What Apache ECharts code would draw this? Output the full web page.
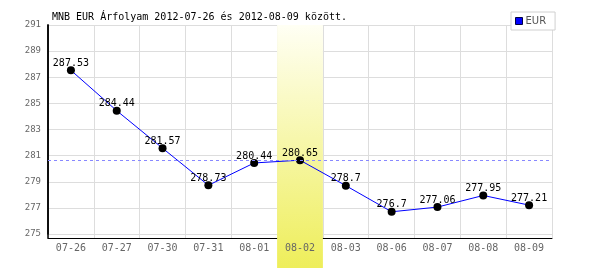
<!DOCTYPE html>
<html>
<head>
<meta charset="utf-8">
<script src="https://cdn.jsdelivr.net/npm/echarts@6/dist/echarts.min.js"></script>
<style>html,body{margin:0;padding:0;background:#fff}#c{width:600px;height:270px}</style>
</head>
<body>
<div id="c"></div>
<script>
const titleText = 'MNB EUR Árfolyam 2012-07-26 és 2012-08-09 között.';
const seriesName = 'EUR';
const categories = ['07-26','07-27','07-30','07-31','08-01','08-02','08-03','08-06','08-07','08-08','08-09'];
const values = [287.53, 284.44, 281.57, 278.73, 280.44, 280.65, 278.7, 276.7, 277.06, 277.95, 277.21];
const highlightCategory = '08-02';
const referenceValue = 280.65;
const yMin = 275, yMax = 291, yStep = 2;

const bandData = categories.map(c => c === highlightCategory ? 1 : null);
const mono = 'DejaVu Sans Mono';

const chart = echarts.init(document.getElementById('c'), null, {renderer: 'canvas'});
chart.setOption({
  animation: false,
  backgroundColor: '#ffffff',
  title: {
    text: titleText, left: 47, top: 7,
    textStyle: {fontFamily: mono, fontSize: 10, fontWeight: 'normal', color: '#000'}
  },
  legend: {
    left: 511, top: 12, orient: 'vertical',
    backgroundColor: '#fff', borderColor: '#d0d0d0', borderWidth: 1,
    padding: [4, 9, 4, 4], itemWidth: 7, itemHeight: 7, itemGap: 0,
    icon: 'rect',
    data: [{name: seriesName, itemStyle: {color: '#0000ff', borderColor: '#000044', borderWidth: 1}}],
    textStyle: {fontFamily: 'DejaVu Sans', fontSize: 10, color: '#555', padding: [0,0,0,-2]}
  },
  grid: [
    {left: 48, right: 48, top: 25, bottom: 36},
    {left: 48, right: 48, top: 25, bottom: 32},
    {left: 48, right: 48, top: 25, bottom: 2},
    {left: 0, right: 552, top: 25, bottom: 32}
  ],
  xAxis: [
    {gridIndex: 0, type: 'category', data: categories, show: false},
    {gridIndex: 1, type: 'category', data: categories, z: 0, position: 'bottom',
      axisLine: {show: true, onZero: false, lineStyle: {color: '#000', width: 1}},
      axisTick: {show: false}, axisLabel: {show: false},
      splitLine: {show: true, lineStyle: {color: '#dddddd', width: 1}}},
    {gridIndex: 1, type: 'category', data: categories, z: 6, position: 'bottom',
      axisLine: {show: false, onZero: false}, axisTick: {show: false},
      axisLabel: {show: true, margin: 5, fontFamily: mono, fontSize: 10, color: '#666'},
      splitLine: {show: false}},
    {gridIndex: 2, type: 'category', data: categories, show: false},
    {gridIndex: 3, type: 'category', data: [''], show: false}
  ],
  yAxis: [
    {gridIndex: 0, type: 'value', min: yMin, max: yMax, interval: yStep, z: 0,
      axisLine: {show: true, lineStyle: {color: '#000000', width: 1.5}}, axisTick: {show: false},
      axisLabel: {margin: 7, fontFamily: mono, fontSize: 9, color: '#666'},
      splitLine: {show: true, lineStyle: {color: '#dddddd', width: 1}}},
    {gridIndex: 1, type: 'value', min: 0, max: 1, show: false},
    {gridIndex: 2, type: 'value', min: 0, max: 1, show: false},
    {gridIndex: 3, type: 'value', min: 0, max: 1, z: 3, position: 'right',
      axisLine: {show: true, onZero: false, lineStyle: {color: '#000000', width: 1.5}},
      axisTick: {show: false}, axisLabel: {show: false}, splitLine: {show: false}}
  ],
  series: [
    {
      type: 'bar', name: 'band', xAxisIndex: 3, yAxisIndex: 2, z: 2,
      data: bandData, barWidth: '100%', barCategoryGap: 0, silent: true,
      itemStyle: {color: new echarts.graphic.LinearGradient(0, 0, 0, 1, [
        {offset: 0, color: '#fffff4'}, {offset: 1, color: '#eeee5a'}])}
    },
    {
      type: 'line', name: seriesName, xAxisIndex: 0, yAxisIndex: 0, z: 4,
      data: values,
      lineStyle: {color: '#0000ff', width: 1},
      symbol: 'circle', symbolSize: 8,
      itemStyle: {color: '#000'},
      label: {show: true, position: 'top', distance: -2, fontFamily: mono, fontSize: 10, color: '#000'},
      markLine: {
        silent: true, symbol: 'none', label: {show: false},
        lineStyle: {color: '#8888ff', type: [3, 3], width: 1},
        data: [{yAxis: referenceValue}]
      }
    }
  ]
});
</script>
</body>
</html>
